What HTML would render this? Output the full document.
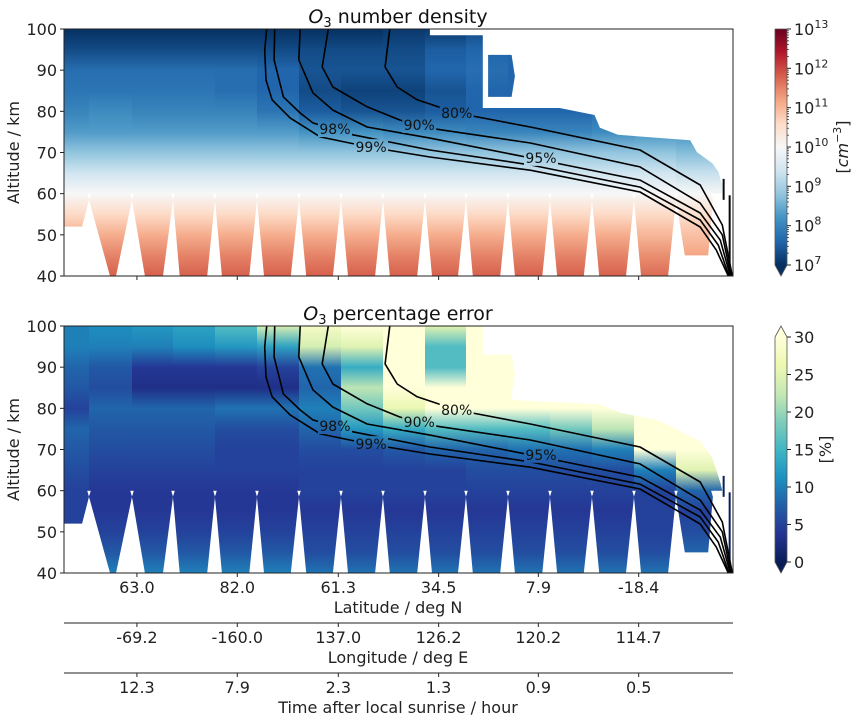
<!DOCTYPE html>
<html><head><meta charset="utf-8">
<style>
html,body{margin:0;padding:0;background:#fff;}
svg{display:block;font-family:"DejaVu Sans","Liberation Sans",sans-serif;}
</style></head>
<body>
<svg id="chart" width="861" height="721" viewBox="0 0 861 721" xmlns="http://www.w3.org/2000/svg">
<defs id="defs"></defs>
<g id="top-panel"></g>
<g id="bot-panel"></g>
<g id="axes"></g>
</svg>
<script>
// ---------- data ----------
const altLevels = [40,45,50,55,60,65,70,75,80,85,90,95,100];
const colEdges = [0,3.74,10.16,16.29,22.57,28.85,35.13,41.4,47.68,53.96,60.09,66.37,72.65,78.92,85.2,91.48,97.8,100];
// log10 number density per column (rows = altLevels)
const densityCols = [
 [11.8,11.5,11.1,10.6,10.0,9.4,8.8,8.3,8.0,7.8,7.7,7.3,7.0],
 [11.8,11.5,11.1,10.6,10.0,9.4,8.8,8.3,8.1,7.8,7.7,7.3,7.0],
 [11.8,11.5,11.1,10.6,10.0,9.4,8.8,8.3,8.0,7.8,7.7,7.3,7.0],
 [11.8,11.5,11.1,10.6,10.0,9.4,8.8,8.3,8.0,7.8,7.7,7.3,7.0],
 [11.8,11.5,11.1,10.6,10.0,9.4,8.8,8.3,8.0,7.7,7.7,7.3,7.0],
 [11.8,11.5,11.1,10.6,10.0,9.4,8.8,8.3,7.8,7.6,7.6,7.3,7.0],
 [11.8,11.5,11.1,10.6,10.0,9.4,8.8,8.2,7.5,7.3,7.4,7.3,7.0],
 [11.8,11.5,11.1,10.6,10.0,9.4,8.8,8.2,7.4,7.2,7.4,7.3,7.0],
 [11.8,11.5,11.1,10.6,10.0,9.4,8.8,8.1,7.4,7.2,7.4,7.3,7.1],
 [11.8,11.5,11.1,10.6,10.0,9.4,8.8,8.1,7.5,7.4,7.6,7.5,7.1],
 [11.8,11.5,11.1,10.6,10.0,9.4,8.8,8.0,7.6,7.6,7.7,7.6,7.3],
 [11.8,11.5,11.1,10.6,10.0,9.4,8.8,8.0,7.6,7.6,7.6,7.6,7.3],
 [11.8,11.5,11.1,10.6,10.0,9.4,8.8,8.0,7.6,7.6,7.6,7.6,7.3],
 [11.8,11.5,11.1,10.6,10.0,9.4,8.8,8.1,7.7,7.6,7.6,7.6,7.3],
 [11.7,11.4,11.0,10.6,10.0,9.4,8.8,8.2,7.8,7.6,7.6,7.6,7.3],
 [11.5,11.2,10.9,10.5,10.0,9.3,8.7,8.2,7.8,7.6,7.6,7.6,7.3],
 [11.5,11.2,10.9,10.5,10.0,9.3,8.7,8.2,7.8,7.6,7.6,7.6,7.3]
];
// percentage error per column (rows = altLevels)
const errorCols = [
 [9,7,5,5,5,6,7,8,5,7,8,10,10],
 [10,7,5,4,4,5,6,7,8,6,7,10,11],
 [10,7,5,4,4,5,6,7,8,3,4,10,12],
 [10,7,5,4,4,5,6,7,8,3,4,11,13],
 [10,7,5,4,4,5,5,6,9,3,4,12,16],
 [10,7,5,4,4,5,5,6,9,3,5,13,24],
 [9,6,5,4,5,5,6,8,10,8,9,24,28],
 [9,6,5,4,5,5,6,12,18,22,14,25,30],
 [9,6,5,4,5,5,7,14,26,30,30,30,30],
 [9,6,5,4,5,5,8,16,30,30,16,16,25],
 [9,6,5,4,5,6,8,16,30,30,30,30,30],
 [9,6,5,4,5,6,9,16,30,30,30,30,30],
 [9,6,5,4,5,6,9,18,30,30,30,30,30],
 [9,6,5,4,5,6,10,22,30,30,30,30,30],
 [9,6,5,5,5,10,30,30,30,30,30,30,30],
 [10,8,6,5,8,25,30,30,30,30,30,30,30],
 [10,8,6,5,8,25,30,30,30,30,30,30,30]
];
// measurement scans (lower atmosphere)
const scanStart = [0,3.74,10.16,16.29,22.57,28.85,35.13,41.4,47.68,53.96,60.09,66.37,72.65,78.92,85.2,91.48];
const scanEnd   = [3.74,10.16,16.29,22.57,28.85,35.13,41.4,47.68,53.96,60.09,66.37,72.65,78.92,85.2,91.48,97.0];
const scanFootL = [0,6.88,12.1,17.3,23.6,29.9,36.2,42.45,48.7,55.0,61.1,67.4,73.7,80.0,86.25,92.8];
const scanFootR = [2.7,7.77,14.8,21.4,27.7,33.9,40.2,46.5,52.8,58.9,65.2,71.5,77.7,84.0,90.3,96.3];
const scanMinAlt= [52,40,40,40,40,40,40,40,40,40,40,40,40,40,40,45];
// upper data boundary (x, alt)
const topBoundX = [0,0,54.7,54.7,62.6,62.6,74.1,79.3,80.1,82.8,93.6,94.6,96.9,97.8,98.4,98.4];
const topBoundA = [60,100,100,98.5,98.5,80.8,80.8,79.1,76,74.3,73,70.1,67.4,65.3,62.1,60];
const blobX = [63.4,66.9,67.4,66.9,63.4];
const blobA = [93.7,93.7,88.5,83.5,83.5];
const botBoundX = [0,0,62.6,62.6,67.0,67.0,80.1,83,89,95.1,96.9,98.1,98.4];
const botBoundA = [60,100,100,93,93,82,81,79,77,72,68,62,60];
// contours of measurement response
const contourNames = ['99%','98%','95%','90%','80%'];
const c99x=[30.3,30.0,30.2,31.1,33.8,38.3,42.7,48.3,54.7,69.7,86.1,95.1,97.5,99.3];
const c99a=[100,94.9,87.6,82.8,78.4,73.8,72.3,70.6,68.9,65.7,60.4,51.9,46.3,40];
const c98x=[31.5,31.4,32.8,35.3,37.2,43.2,54.7,69.7,86.1,95.1,97.8,99.4];
const c98a=[100,92.5,83.5,79.6,77.2,74.3,70.6,67.0,61.6,53.6,47.5,40];
const c95x=[35.3,35.1,37.2,40.2,45.3,54.7,69.7,86.1,95.1,98.1,99.6];
const c95a=[100,92.5,84.5,80.3,76.2,73.5,68.7,63.3,55.3,48.7,40];
const c90x=[39.5,38.6,40.2,45.3,50.2,54.7,69.7,86.1,95.1,98.4,99.7];
const c90a=[100,90.8,85.9,81.1,77.9,75.9,72.3,66.5,57.7,50.0,40];
const c80x=[48.7,48.0,49.8,52.8,58.7,69.7,86.1,95.1,98.4,99.9];
const c80a=[100,90.8,85.9,82.8,79.6,76.2,70.6,62.1,52.4,40];
const labelText = ['80%','90%','98%','99%','95%'];
const labelX = [58.7,53.1,40.5,45.9,71.3];
const labelA = [79.6,76.7,75.7,71.3,68.7];
// thin edge profiles: x, top alt, bottom alt
const edgeX = [98.6,99.5];
const edgeTop = [63.6,59.6];
const edgeBot = [58.5,40];
// axis ticks
const altTicks = [40,50,60,70,80,90,100];
const xTickPos = [10.9,25.9,41.0,56.0,70.9,85.9];
const latLabels = ['63.0','82.0','61.3','34.5','7.9','-18.4'];
const lonLabels = ['-69.2','-160.0','137.0','126.2','120.2','114.7'];
const timeLabels = ['12.3','7.9','2.3','1.3','0.9','0.5'];
const densTicks = [7,8,9,10,11,12,13];
const errTicks = [0,5,10,15,20,25,30];

// ---------- scales ----------
const X0=64, X1=733, TOP0=29, BOT0=326, PH=247;
const xS = d => X0 + d/100*(X1-X0);
const yS = (a,off) => off + (100-a)/60*PH;
const NS='http://www.w3.org/2000/svg';
function mk(tag, attrs, parent){const e=document.createElementNS(NS,tag);for(const k in attrs)e.setAttribute(k,attrs[k]);if(parent)parent.appendChild(e);return e;}
const defs=document.getElementById('defs');

const rdbu=['#053061','#2166ac','#4393c3','#92c5de','#d1e5f0','#f7f7f7','#fddbc7','#f4a582','#d6604d','#b2182b','#67001f'];
const ylgnbu=['#081d58','#253494','#225ea8','#1d91c0','#41b6c4','#7fcdbb','#c7e9b4','#edf8b1','#ffffd9'];
function hex2(h){return [1,3,5].map(i=>parseInt(h.substr(i,2),16));}
function cmap(stops,t){t=Math.max(0,Math.min(1,t));const n=stops.length-1;const i=Math.min(n-1,Math.floor(t*n));const f=t*n-i;const a=hex2(stops[i]),b=hex2(stops[i+1]);return 'rgb('+a.map((v,k)=>Math.round(v+(b[k]-v)*f)).join(',')+')';}
const densColor=v=>cmap(rdbu,(v-7)/6);
const errColor=v=>cmap(ylgnbu,v/30);

function polyPts(xs,as,off){return xs.map((x,i)=>xS(x).toFixed(1)+','+yS(as[i],off).toFixed(1)).join(' ');}

function buildPanel(g, off, cols, colorFn, boundX, boundA, withBlob, id){
  const cp=mk('clipPath',{id:'clip-'+id},defs);
  mk('polygon',{points:polyPts(boundX,boundA,off)},cp);
  if(withBlob) mk('polygon',{points:polyPts(blobX,blobA,off)},cp);
  else mk('polygon',{points:polyPts(blobX,blobA.map(a=>Math.min(a,93)),off)},cp);
  for(let i=0;i<scanStart.length;i++){
    const s=scanStart[i],e=scanEnd[i];
    const xs=[s,s+0.3,e-0.3,e,scanFootR[i],scanFootL[i]];
    const as=[58.5,60.2,60.2,58.5,scanMinAlt[i],scanMinAlt[i]];
    if(i===0){xs[0]=0;xs[1]=0;as[0]=60.2;}
    mk('polygon',{points:polyPts(xs,as,off)},cp);
  }
  const hg=mk('g',{'clip-path':'url(#clip-'+id+')'},g);
  
  
  for(let c=0;c<cols.length;c++){
    const gr=mk('linearGradient',{id:'g-'+id+'-'+c,x1:'0',y1:'0',x2:'0',y2:'1'},defs);
    for(let r=altLevels.length-1;r>=0;r--){
      mk('stop',{offset:((100-altLevels[r])/60).toFixed(3),'stop-color':colorFn(cols[c][r])},gr);
    }
    const x=xS(colEdges[c]), w=xS(colEdges[c+1])-x;
    const rc=mk('rect',{x:x.toFixed(1),y:off,width:(w+0.6).toFixed(1),height:PH,fill:'url(#g-'+id+'-'+c+')'},hg);
    
    
  }
  const dk = id==='top'?'#0a0a0a':'#0b1d5a';
  for(let i=0;i<edgeX.length;i++){
    const b=mk('rect',{x:xS(edgeX[i])-1,y:yS(edgeTop[i],off),width:2,height:yS(edgeBot[i],off)-yS(edgeTop[i],off),fill:dk},g);
    
    
  }

  const m=mk('mask',{id:'mask-'+id},defs);
  mk('rect',{x:0,y:0,width:861,height:721,fill:'#fff'},m);
  for(let i=0;i<labelText.length;i++){
    mk('rect',{x:xS(labelX[i])-17,y:yS(labelA[i],off)-8,width:34,height:16,fill:'#000'},m);
  }
  const cg=mk('g',{mask:'url(#mask-'+id+')',fill:'none',stroke:'#000','stroke-width':'1.6'},g);
  
  
  const cs=[[c99x,c99a],[c98x,c98a],[c95x,c95a],[c90x,c90a],[c80x,c80a]];
  cs.forEach((c,i)=>{
    const p=mk('polyline',{points:polyPts(c[0],c[1],off),'stroke-linejoin':'round'},cg);
    
    
  });
  for(let i=0;i<labelText.length;i++){
    const t=mk('text',{x:xS(labelX[i]),y:yS(labelA[i],off)+5,'text-anchor':'middle','font-size':'14',fill:'#111'},g);
    t.textContent=labelText[i];
    
    
  }
  const fr=mk('rect',{x:X0,y:off,width:X1-X0,height:PH,fill:'none',stroke:'#222','stroke-width':'1'},g);
  
  
  altTicks.forEach(a=>{
    const y=yS(a,off);
    mk('line',{x1:X0-4,x2:X0,y1:y,y2:y,stroke:'#222'},g);
    const t=mk('text',{x:57,y:y+6,'text-anchor':'end','font-size':'16',fill:'#222'},g);
    t.textContent=a;
    
    
  });
  xTickPos.forEach(d=>{mk('line',{x1:xS(d),x2:xS(d),y1:off+PH,y2:off+PH+4,stroke:'#222'},g);});
  const yl=mk('text',{x:0,y:0,transform:'translate(19,'+(off+PH/2)+') rotate(-90)','text-anchor':'middle','font-size':'16',fill:'#222'},g);
  yl.textContent='Altitude / km';
  
  
}

const topG=document.getElementById('top-panel'), botG=document.getElementById('bot-panel'), ax=document.getElementById('axes');
buildPanel(topG,TOP0,densityCols,densColor,topBoundX,topBoundA,true,'top');
buildPanel(botG,BOT0,errorCols,errColor,botBoundX,botBoundA,false,'bot');

function title(y,rest,name){
  const t=mk('text',{x:398,y:y,'text-anchor':'middle','font-size':'19',fill:'#111'},ax);
  
  
  const a=mk('tspan',{'font-style':'italic'},t);a.textContent='O';
  const b=mk('tspan',{'font-size':'13',dy:'4'},t);b.textContent='3';
  const c=mk('tspan',{dy:'-4'},t);c.textContent=' '+rest;
}
title(23,'number density','top-title');
title(320,'percentage error','bottom-title');

const axisRows=[[587,latLabels,'Latitude / deg N',607,null],[637,lonLabels,'Longitude / deg E',657,623],[687,timeLabels,'Time after local sunrise / hour',707,673]];
axisRows.forEach((r,ri)=>{
  if(r[4]){
    const l=mk('line',{x1:X0,x2:X1,y1:r[4],y2:r[4],stroke:'#222'},ax);
    
    
    xTickPos.forEach(d=>{mk('line',{x1:xS(d),x2:xS(d),y1:r[4],y2:r[4]+4,stroke:'#222'},ax);});
  }
  r[1].forEach((lab,i)=>{
    const t=mk('text',{x:xS(xTickPos[i]),y:r[0]+6,'text-anchor':'middle','font-size':'16',fill:'#222'},ax);
    t.textContent=lab;
    
    
  });
  const t=mk('text',{x:398,y:r[3]+6,'text-anchor':'middle','font-size':'16',fill:'#222'},ax);
  t.textContent=r[2];
  
  
});

function colorbar(y0,y1,tipTop,tipBot,stops,ticks,tmin,tmax,fmt,label,labelX,id,topExt,minor){
  const cx0=775, cx1=787;
  const gr=mk('linearGradient',{id:'cb-'+id,x1:'0',y1:'1',x2:'0',y2:'0'},defs);
  stops.forEach((s,i)=>mk('stop',{offset:i/(stops.length-1),'stop-color':s},gr));
  const g=mk('g',{},ax);
  
  
  mk('rect',{x:cx0,y:y0,width:cx1-cx0,height:y1-y0,fill:'url(#cb-'+id+')'},g);
  mk('polygon',{points:cx0+','+y1+' '+cx1+','+y1+' '+(cx0+cx1)/2+','+tipBot,fill:stops[0]},g);
  if(topExt) mk('polygon',{points:cx0+','+y0+' '+cx1+','+y0+' '+(cx0+cx1)/2+','+tipTop,fill:stops[stops.length-1]},g);
  let outline=cx0+','+y0+' '+cx0+','+y1+' '+(cx0+cx1)/2+','+tipBot+' '+cx1+','+y1+' '+cx1+','+y0;
  outline+= topExt? ' '+(cx0+cx1)/2+','+tipTop+' '+cx0+','+y0 : ' '+cx0+','+y0;
  mk('polyline',{points:outline,fill:'none',stroke:'#555','stroke-width':'0.8'},g);
  const ys=v=>y1-(v-tmin)/(tmax-tmin)*(y1-y0);
  ticks.forEach(v=>{
    const y=ys(v);
    mk('line',{x1:cx1,x2:cx1+4,y1:y,y2:y,stroke:'#222'},g);
    const t=mk('text',{x:cx1+7,y:y+6,'font-size':'16',fill:'#222'},g);
    
    
    fmt(t,v);
  });
  if(minor){
    for(let d=tmin;d<tmax;d++)for(let k=2;k<10;k++){const y=ys(d+Math.log10(k));mk('line',{x1:cx1,x2:cx1+2,y1:y,y2:y,stroke:'#222','stroke-width':'0.7'},g);}
  }
  const lt=mk('text',{x:0,y:0,transform:'translate('+labelX+','+((y0+y1)/2)+') rotate(-90)','text-anchor':'middle','font-size':'16',fill:'#222'},g);
  
  
  label(lt);
}
colorbar(29,265,29,276,rdbu,densTicks,7,13,(t,v)=>{
  const a=mk('tspan',{},t);a.textContent='10';
  const b=mk('tspan',{'font-size':'11',dy:'-7'},t);b.textContent=String(v);
},lt=>{
  const a=mk('tspan',{},lt);a.textContent='[';
  const b=mk('tspan',{'font-style':'italic'},lt);b.textContent='cm';
  const c=mk('tspan',{'font-size':'11',dy:'-7'},lt);c.textContent='−3';
  const d=mk('tspan',{dy:'7'},lt);d.textContent=']';
},848,'density',false,true);
colorbar(337,562,326,573,ylgnbu,errTicks,0,30,(t,v)=>{t.textContent=String(v);},lt=>{lt.textContent='[%]';},831,'error',true,false);
</script>
</body></html>
